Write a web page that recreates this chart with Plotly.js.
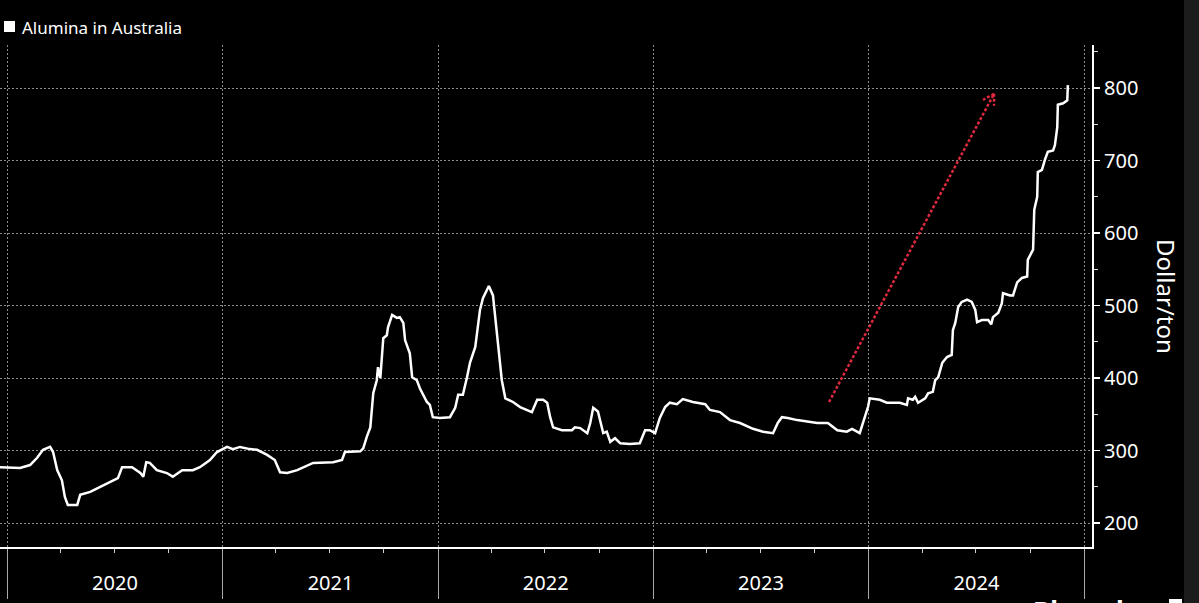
<!DOCTYPE html>
<html>
<head>
<meta charset="utf-8">
<script src="https://cdn.plot.ly/plotly-3.0.1.min.js"></script>
<style>
html,body{margin:0;padding:0;background:#000;}
#chart{width:1199px;height:603px;}
</style>
</head>
<body>
<div id="chart"></div>
<script>
const seriesName = 'Alumina in Australia';
const yTitle = 'Dollar/ton';
const dates = [
'2019-12-20','2020-01-06','2020-01-23','2020-02-09','2020-02-21','2020-03-02','2020-03-14','2020-03-19','2020-03-26','2020-04-03',
'2020-04-08','2020-04-13','2020-04-29','2020-05-04','2020-05-21','2020-06-07','2020-06-24','2020-07-07','2020-07-14','2020-07-31',
'2020-08-14','2020-08-19','2020-08-24','2020-08-30','2020-09-11','2020-09-28','2020-10-08','2020-10-24','2020-11-11','2020-11-23',
'2020-12-10','2020-12-22','2021-01-08','2021-01-18','2021-01-30','2021-02-16','2021-02-28','2021-03-17','2021-03-30','2021-04-08',
'2021-04-20','2021-05-07','2021-06-03','2021-07-07','2021-07-22','2021-07-27','2021-08-22','2021-08-27','2021-09-02','2021-09-08',
'2021-09-13','2021-09-19','2021-09-21','2021-09-25','2021-09-30','2021-10-06','2021-10-08','2021-10-15','2021-10-23','2021-10-28',
'2021-11-03','2021-11-06','2021-11-14','2021-11-18','2021-11-26','2021-12-01','2021-12-13','2021-12-18','2021-12-23','2022-01-04',
'2022-01-21','2022-01-30','2022-02-04','2022-02-12','2022-02-19','2022-02-24','2022-03-05','2022-03-13','2022-03-18','2022-03-25',
'2022-03-28','2022-04-04','2022-04-08','2022-04-13','2022-04-19','2022-04-25','2022-05-08','2022-05-20','2022-06-01','2022-06-09',
'2022-06-18','2022-06-28','2022-07-05','2022-07-10','2022-07-15','2022-07-30','2022-08-16','2022-08-21','2022-08-30','2022-09-11',
'2022-09-16','2022-09-21','2022-09-29','2022-10-06','2022-10-08','2022-10-14','2022-10-20','2022-10-28','2022-11-06','2022-11-22',
'2022-12-09','2022-12-18','2022-12-26','2023-01-04','2023-01-12','2023-01-21','2023-01-29','2023-02-10','2023-02-20','2023-03-09',
'2023-03-30','2023-04-07','2023-04-24','2023-05-11','2023-05-28','2023-06-19','2023-07-06','2023-07-23','2023-07-31','2023-08-07',
'2023-08-17','2023-09-02','2023-09-19','2023-10-06','2023-10-24','2023-11-09','2023-11-25','2023-12-04','2023-12-17','2023-12-26',
'2023-12-31','2024-01-03','2024-01-20','2024-02-01','2024-02-23','2024-03-06','2024-03-08','2024-03-16','2024-03-20','2024-03-25',
'2024-04-06','2024-04-11','2024-04-19','2024-04-23','2024-04-28','2024-05-05','2024-05-13','2024-05-21','2024-05-23','2024-05-27',
'2024-06-01','2024-06-07','2024-06-16','2024-06-24','2024-06-30','2024-07-03','2024-07-11','2024-07-22','2024-07-27','2024-07-30',
'2024-08-08','2024-08-14','2024-08-16','2024-08-28','2024-09-02','2024-09-09','2024-09-17','2024-09-26','2024-09-27','2024-10-04',
'2024-10-06','2024-10-08','2024-10-13','2024-10-14','2024-10-21','2024-10-26','2024-10-31','2024-11-09','2024-11-12','2024-11-16',
'2024-11-17','2024-11-26','2024-12-03','2024-12-04'
];
const prices = [
277,276,276,280,290,301,305,298,273,259,
236,225,225,239,243,250,257,262,277,277,
269,264,284,283,273,269,264,273,273,277,
287,298,305,302,305,302,301,294,287,270,
269,273,283,284,287,298,299,303,319,332,
379,397,415,400,455,459,470,487,483,484,
476,452,434,401,397,386,367,363,346,345,
346,359,377,377,401,421,443,494,510,521,
527,514,484,443,397,372,367,360,356,353,
370,370,366,346,332,328,328,332,331,324,
338,359,354,332,324,326,312,317,310,309,
310,328,328,324,345,360,366,364,371,367,
364,356,353,342,338,330,326,324,338,346,
345,342,340,338,338,328,326,330,324,346,
360,372,370,366,366,363,372,370,374,366,
372,379,381,397,401,421,429,432,466,476,
498,505,508,505,494,477,480,480,474,484,
490,503,517,514,514,532,538,540,563,574,
577,632,650,684,687,701,712,714,721,746,
777,779,783,804
];
// trend arrow (annotation): start and tip
const arrowStart = {date: '2023-10-25 22:00', value: 367};
const arrowTip = {date: '2024-07-31 19:00', value: 792};
const sourceText = 'Bloomberg';

const FONT = 'Noto Sans, Open Sans, sans-serif';
const RED = '#e0283f';

const trace = {
  x: dates, y: prices, type: 'scatter', mode: 'lines',
  name: seriesName, showlegend: false,
  line: {color: '#ffffff', width: 2.5, shape: 'linear'},
  hoverinfo: 'skip'
};

const layout = {
  width: 1199, height: 603,
  paper_bgcolor: '#000000', plot_bgcolor: '#000000',
  margin: {l: 0, r: 107, t: 45, b: 56, pad: 0},
  font: {family: FONT, color: '#ffffff', size: 20},
  showlegend: false,
  xaxis: {
    type: 'date',
    range: ['2019-12-20', '2025-01-13 22:00'],
    tick0: '2020-01-01', dtick: 'M12',
    ticklabelmode: 'period', tickformat: '%Y',
    ticks: 'outside', ticklen: 50, tickcolor: '#aaaaaa', tickwidth: 1,
    ticklabelstandoff: -33,
    tickfont: {family: FONT, size: 20, color: '#ffffff'},
    showgrid: true, gridcolor: '#8a8a8a', gridwidth: 1, griddash: '2px,2px',
    showline: true, linecolor: '#ffffff', linewidth: 2,
    zeroline: false, fixedrange: true,
    minor: {dtick: 'M3', tick0: '2020-01-01', ticks: 'outside', ticklen: 4, tickcolor: '#cccccc', tickwidth: 1, showgrid: false}
  },
  yaxis: {
    side: 'right',
    range: [167, 859.3],
    tick0: 200, dtick: 100,
    ticks: 'outside', ticklen: 6, tickcolor: '#ffffff', tickwidth: 1.5,
    tickfont: {family: FONT, size: 20, color: '#ffffff'},
    showgrid: true, gridcolor: '#8a8a8a', gridwidth: 1, griddash: '2px,2px',
    showline: true, linecolor: '#ffffff', linewidth: 2,
    zeroline: false, fixedrange: true,
    minor: {dtick: 50, ticks: 'outside', ticklen: 4, tickcolor: '#dddddd', tickwidth: 1, showgrid: false}
  },
  shapes: [
    // screenshot edge strip on the right
    {type: 'rect', xref: 'paper', yref: 'paper', x0: 1184/1092, x1: 1199/1092, y0: -56/502, y1: 547/502,
     fillcolor: '#1c1c1c', line: {width: 0}, layer: 'below'},
    // legend key
    {type: 'rect', xref: 'paper', yref: 'paper', x0: 4/1092, x1: 15/1092, y0: (547-32)/502, y1: (547-21)/502,
     fillcolor: '#ffffff', line: {width: 0}},
    // source logo block (cut off at the bottom edge)
    {type: 'rect', xref: 'paper', yref: 'paper', x0: 1169/1092, x1: 1182/1092, y0: -60/502, y1: (547-599)/502,
     fillcolor: '#ffffff', line: {width: 0}},
    // red dotted trend arrow
    {type: 'line', xref: 'x', yref: 'y', x0: arrowStart.date, y0: arrowStart.value, x1: arrowTip.date, y1: arrowTip.value,
     line: {color: RED, width: 2.5, dash: '3px,2px'}},
    {type: 'line', xref: 'x', yref: 'y', xsizemode: 'pixel', ysizemode: 'pixel',
     xanchor: arrowTip.date, yanchor: arrowTip.value, x0: 0, y0: 0, x1: -11, y1: -6,
     line: {color: RED, width: 2.5, dash: '3px,2px'}},
    {type: 'line', xref: 'x', yref: 'y', xsizemode: 'pixel', ysizemode: 'pixel',
     xanchor: arrowTip.date, yanchor: arrowTip.value, x0: 0, y0: 0, x1: 0, y1: -12,
     line: {color: RED, width: 2.5, dash: '3px,2px'}}
  ],
  annotations: [
    {text: seriesName, xref: 'paper', yref: 'paper', x: 20/1092, y: (547-27)/502,
     xanchor: 'left', yanchor: 'middle', showarrow: false,
     font: {family: FONT, size: 17, color: '#ffffff'}},
    {text: yTitle, xref: 'paper', yref: 'paper', x: 1167/1092, y: (547-296)/502,
     xanchor: 'center', yanchor: 'middle', textangle: 90, showarrow: false,
     font: {family: FONT, size: 24, color: '#ffffff'}},
    {text: '<b>' + sourceText + '</b>', xref: 'paper', yref: 'paper', x: 1031/1092, y: (547-591)/502,
     xanchor: 'left', yanchor: 'top', showarrow: false,
     font: {family: FONT, size: 26, color: '#ffffff'}}
  ]
};

Plotly.newPlot('chart', [trace], layout, {staticPlot: true, displayModeBar: false});
</script>
</body>
</html>
